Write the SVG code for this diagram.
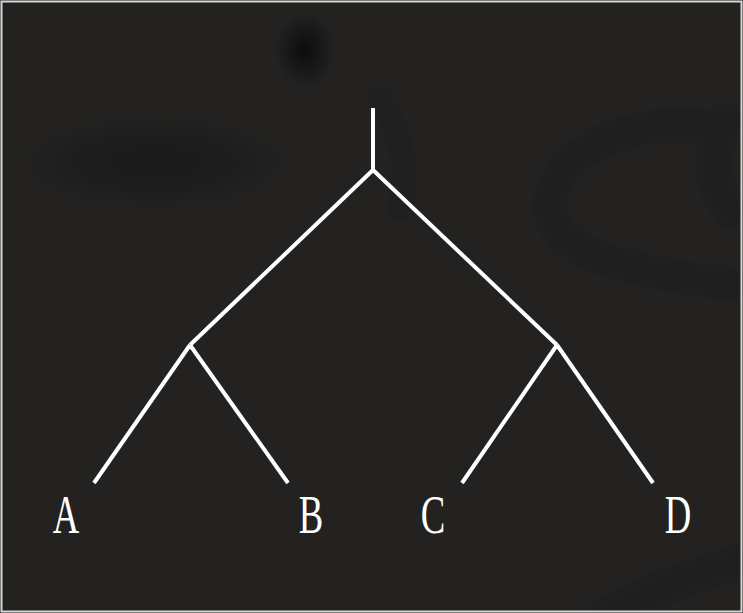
<svg xmlns="http://www.w3.org/2000/svg" width="743" height="613" viewBox="0 0 743 613">
<defs>
<radialGradient id="blob"><stop offset="0" stop-color="#0a0a0a" stop-opacity="0.9"/><stop offset="1" stop-color="#0a0a0a" stop-opacity="0"/></radialGradient>
<radialGradient id="soft"><stop offset="0" stop-color="#141414" stop-opacity="0.6"/><stop offset="0.6" stop-color="#141414" stop-opacity="0.35"/><stop offset="1" stop-color="#141414" stop-opacity="0"/></radialGradient>
<style>
.edge{stroke:#ffffff;stroke-width:4;fill:none;stroke-linecap:butt;stroke-linejoin:miter}
.lbl{fill:#ffffff;font-family:"Liberation Serif","DejaVu Serif",serif;font-size:54px;text-anchor:middle}
.s1{fill:none;stroke:#151515;stroke-opacity:0.12;stroke-linecap:round}
</style>
</defs>
<rect x="0" y="0" width="743" height="613" fill="#232221"/>
<g id="background">
<ellipse cx="305" cy="50" rx="30" ry="38" fill="url(#blob)"/>
<ellipse cx="155" cy="162" rx="130" ry="45" fill="url(#soft)"/>
<g>
<path class="s1" stroke-width="34" d="M700 125 C600 120 545 170 550 210 C555 250 610 270 740 285"/>
<path class="s1" stroke-width="22" d="M700 125 C600 120 545 170 550 210 C555 250 610 270 740 285"/>
<path class="s1" stroke-width="12" d="M700 125 C600 120 545 170 550 210 C555 250 610 270 740 285"/>
<path class="s1" stroke-width="36" d="M725 120 C710 150 710 185 730 210"/>
<path class="s1" stroke-width="22" d="M725 120 C710 150 710 185 730 210"/>
<path class="s1" stroke-width="36" d="M600 620 C640 595 690 575 750 560"/>
<path class="s1" stroke-width="20" d="M600 620 C640 595 690 575 750 560"/>
<path class="s1" stroke-width="24" d="M380 100 C400 130 410 165 400 210"/>
</g>
</g>
<rect x="1.5" y="1.5" width="740" height="610" fill="none" stroke="#d8d8d8" stroke-width="2"/>
<g id="connectors">
<path class="edge" d="M373 108 V170"/>
<path class="edge" d="M373 170 L190 345"/>
<path class="edge" d="M373 170 L557 345"/>
<path class="edge" d="M190 345 L94 483"/>
<path class="edge" d="M190 345 L288 483"/>
<path class="edge" d="M557 345 L462 483"/>
<path class="edge" d="M557 345 L653 483"/>
</g>
<g id="node-A"><text class="lbl" transform="translate(66 533) scale(0.68 1)">A</text></g>
<g id="node-B"><text class="lbl" transform="translate(311 533) scale(0.68 1)">B</text></g>
<g id="node-C"><text class="lbl" transform="translate(433 533) scale(0.68 1)">C</text></g>
<g id="node-D"><text class="lbl" transform="translate(678 533) scale(0.68 1)">D</text></g>
</svg>
